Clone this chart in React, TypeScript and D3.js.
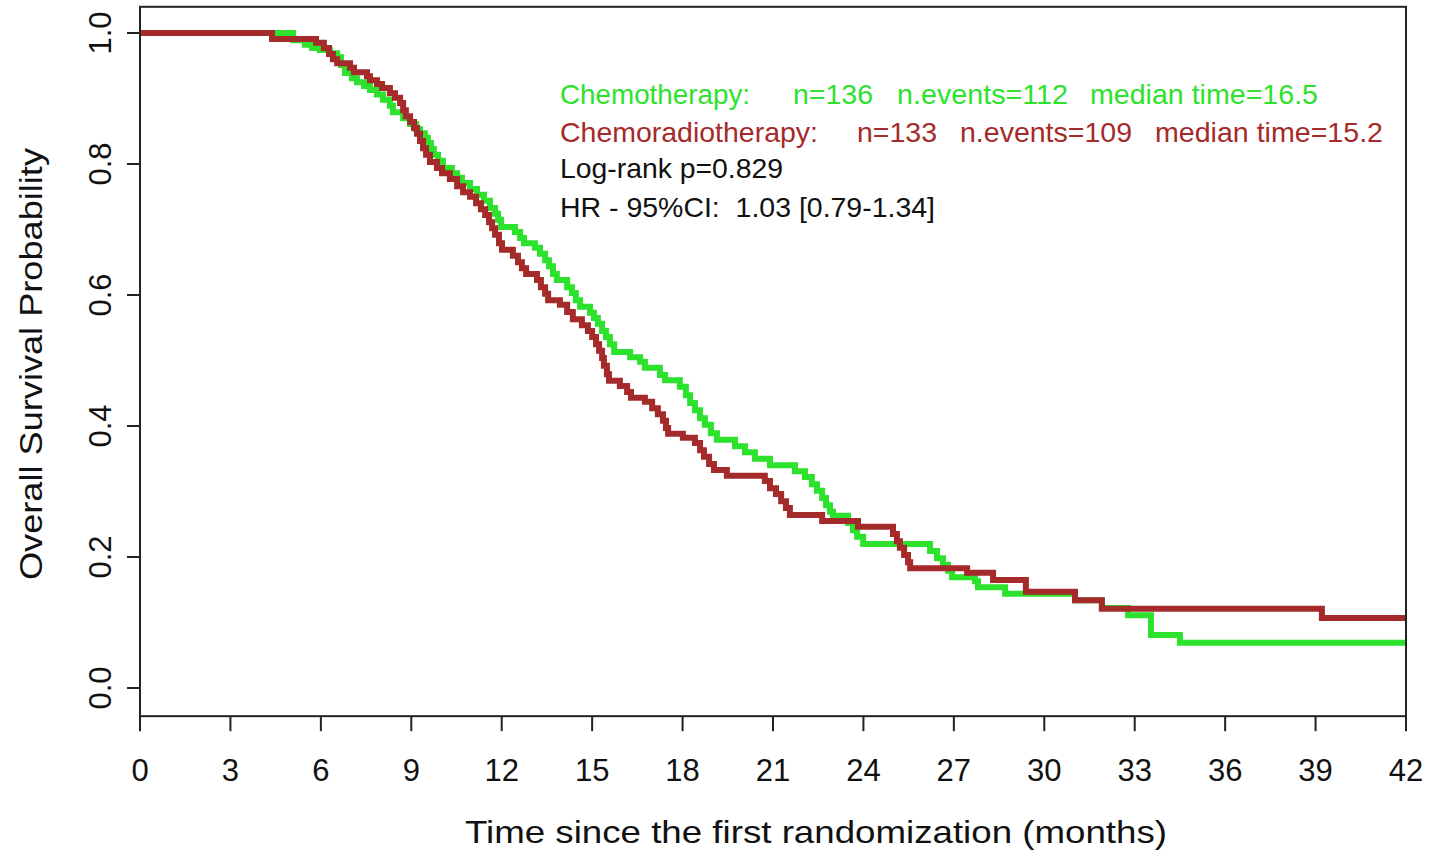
import React from "react";
import * as d3 from "d3";

// Kaplan–Meier step data: event times (months) and survival after each step
const chemoTime = [0, 5.08, 5.47, 5.71, 5.97, 6.3, 6.54, 6.67, 6.8, 7.03, 7.2, 7.43, 7.63, 7.86, 8.06, 8.29, 8.39, 8.73, 8.96, 9.16, 9.29, 9.45, 9.55, 9.65, 9.75, 9.89, 10.05, 10.35, 10.52, 10.68, 10.95, 11.18, 11.41, 11.61, 11.78, 11.88, 11.98, 12.44, 12.61, 12.74, 13.1, 13.27, 13.44, 13.57, 13.7, 13.83, 14.17, 14.33, 14.46, 14.6, 14.93, 15.06, 15.19, 15.33, 15.46, 15.59, 15.73, 16.26, 16.59, 16.75, 17.25, 17.42, 17.91, 18.11, 18.25, 18.41, 18.58, 18.74, 18.94, 19.14, 19.74, 20.07, 20.4, 20.9, 21.73, 22.06, 22.29, 22.46, 22.63, 22.76, 22.89, 22.99, 23.49, 23.65, 23.79, 23.99, 26.21, 26.44, 26.64, 26.81, 26.94, 27.7, 27.8, 28.7, 31.02, 31.91, 32.78, 33.54, 34.5, 42];
const chemoSurv = [1, 0.989, 0.982, 0.977, 0.974, 0.969, 0.963, 0.951, 0.939, 0.931, 0.925, 0.919, 0.913, 0.906, 0.898, 0.889, 0.879, 0.87, 0.861, 0.853, 0.847, 0.84, 0.832, 0.823, 0.814, 0.805, 0.794, 0.786, 0.779, 0.771, 0.762, 0.753, 0.744, 0.733, 0.724, 0.715, 0.704, 0.696, 0.687, 0.679, 0.672, 0.663, 0.653, 0.644, 0.632, 0.623, 0.612, 0.603, 0.592, 0.582, 0.573, 0.565, 0.556, 0.545, 0.536, 0.525, 0.513, 0.505, 0.498, 0.489, 0.478, 0.47, 0.46, 0.447, 0.435, 0.424, 0.412, 0.402, 0.389, 0.379, 0.369, 0.36, 0.35, 0.34, 0.331, 0.322, 0.311, 0.301, 0.29, 0.279, 0.269, 0.263, 0.252, 0.241, 0.231, 0.22, 0.209, 0.198, 0.188, 0.179, 0.169, 0.163, 0.154, 0.144, 0.134, 0.122, 0.111, 0.081, 0.069, 0.069];

const crtTime = [0, 4.38, 5.84, 6.1, 6.27, 6.4, 6.54, 6.97, 7.1, 7.53, 7.63, 7.86, 8.03, 8.29, 8.46, 8.63, 8.73, 8.82, 8.96, 9.09, 9.19, 9.29, 9.39, 9.49, 9.62, 9.85, 10.02, 10.28, 10.52, 10.72, 10.95, 11.15, 11.31, 11.45, 11.58, 11.68, 11.78, 11.91, 12.01, 12.37, 12.54, 12.67, 12.81, 13.17, 13.3, 13.44, 13.54, 13.93, 14.17, 14.36, 14.66, 14.86, 15.0, 15.13, 15.23, 15.33, 15.39, 15.49, 15.56, 15.92, 16.16, 16.29, 16.75, 16.99, 17.18, 17.35, 17.45, 17.52, 18.01, 18.41, 18.58, 18.71, 18.88, 19.04, 19.47, 20.73, 20.9, 21.1, 21.27, 21.43, 21.56, 22.63, 23.82, 24.98, 25.11, 25.21, 25.35, 25.48, 25.55, 27.44, 28.3, 29.39, 31.02, 31.91, 39.21, 42];
const crtSurv = [1, 0.991, 0.985, 0.977, 0.968, 0.96, 0.954, 0.947, 0.94, 0.934, 0.928, 0.922, 0.916, 0.908, 0.901, 0.893, 0.882, 0.873, 0.864, 0.855, 0.846, 0.835, 0.824, 0.814, 0.803, 0.794, 0.786, 0.777, 0.766, 0.757, 0.75, 0.74, 0.731, 0.722, 0.711, 0.702, 0.692, 0.679, 0.669, 0.66, 0.65, 0.641, 0.632, 0.623, 0.612, 0.602, 0.592, 0.585, 0.574, 0.563, 0.554, 0.545, 0.536, 0.525, 0.515, 0.504, 0.492, 0.479, 0.469, 0.461, 0.452, 0.443, 0.437, 0.427, 0.418, 0.408, 0.397, 0.388, 0.382, 0.374, 0.363, 0.353, 0.342, 0.333, 0.324, 0.316, 0.305, 0.296, 0.285, 0.275, 0.264, 0.255, 0.246, 0.235, 0.224, 0.214, 0.203, 0.192, 0.183, 0.176, 0.165, 0.147, 0.134, 0.121, 0.107, 0.107];

// Axis ticks
const monthTicks = [0, 3, 6, 9, 12, 15, 18, 21, 24, 27, 30, 33, 36, 39, 42];
const survTicks = [0, 0.2, 0.4, 0.6, 0.8, 1.0];

// Group summaries
const groupNames = ["Chemotherapy:", "Chemoradiotherapy:"];
const groupN = [136, 133];
const groupEvents = [112, 109];
const groupMedian = [16.5, 15.2];
const groupColors = ["#2de22d", "#a52a2a"];
const statLines = ["Log-rank p=0.829", "HR - 95%CI:  1.03 [0.79-1.34]"];

const FONT = "'Liberation Sans', Arial, Helvetica, sans-serif";

export default function App() {
  const W = 1439;
  const H = 853;
  const x = d3.scaleLinear().domain([0, 42]).range([140, 1406]);
  const y = d3.scaleLinear().domain([0, 1]).range([688, 33]);
  const boxTop = y(1.04);
  const boxBottom = y(-0.043);

  const line = d3
    .line<[number, number]>()
    .x((d) => x(d[0]))
    .y((d) => y(d[1]))
    .curve(d3.curveStepAfter);

  const chemo: [number, number][] = chemoTime.map((t, i) => [t, chemoSurv[i]]);
  const crt: [number, number][] = crtTime.map((t, i) => [t, crtSurv[i]]);

  // Legend segment layout (x start, width) per column
  const colX = [
    [560, 793, 897, 1090],
    [560, 857, 960, 1155],
  ];
  const colW = [
    [190, 80, 171, 228],
    [258, 80, 172, 228],
  ];
  const legendY = [94, 132];

  return (
    <svg
      width={W}
      height={H}
      style={{ position: "absolute", left: 0, top: 0, background: "#fff" }}
      fontFamily={FONT}
    >
      <rect x={0} y={0} width={W} height={H} fill="#fff" />

      {/* curves */}
      <path d={line(chemo) || ""} fill="none" stroke={groupColors[0]} strokeWidth={6} />
      <path d={line(crt) || ""} fill="none" stroke={groupColors[1]} strokeWidth={6} />

      {/* plot box */}
      <rect
        x={x(0)}
        y={boxTop}
        width={x(42) - x(0)}
        height={boxBottom - boxTop}
        fill="none"
        stroke="#222"
        strokeWidth={2}
      />

      {/* x axis */}
      {monthTicks.map((m) => (
        <g key={"xt" + m}>
          <line x1={x(m)} x2={x(m)} y1={boxBottom} y2={boxBottom + 15} stroke="#222" strokeWidth={2} />
          <text
            x={x(m)}
            y={781}
            textAnchor="middle"
            fontSize={31}
            fill="#111"
          >
            {m}
          </text>
        </g>
      ))}
      <text
        x={816}
        y={843}
        textAnchor="middle"
        fontSize={32}
        fill="#111"
        textLength={702}
        lengthAdjust="spacingAndGlyphs"
      >
        Time since the first randomization (months)
      </text>

      {/* y axis */}
      {survTicks.map((s) => (
        <g key={"yt" + s}>
          <line x1={x(0)} x2={x(0) - 13} y1={y(s)} y2={y(s)} stroke="#222" strokeWidth={2} />
          <text
            transform={`translate(111,${y(s)}) rotate(-90)`}
            textAnchor="middle"
            fontSize={31}
            fill="#111"
          >
            {s.toFixed(1)}
          </text>
        </g>
      ))}
      <text
        transform={`translate(42,${364}) rotate(-90)`}
        textAnchor="middle"
        fontSize={31}
        fill="#111"
        textLength={432}
        lengthAdjust="spacingAndGlyphs"
      >
        Overall Survival Probability
      </text>

      {/* group summaries */}
      {groupNames.map((g, i) => {
        const parts = [
          g,
          `n=${groupN[i]}`,
          `n.events=${groupEvents[i]}`,
          `median time=${groupMedian[i].toFixed(1)}`,
        ];
        return (
          <g key={g} fill={groupColors[i]} fontSize={28}>
            {parts.map((p, j) => (
              <text
                key={j}
                x={colX[i][j]}
                y={legendY[i] + 10}
                textLength={colW[i][j]}
                lengthAdjust="spacingAndGlyphs"
              >
                {p}
              </text>
            ))}
          </g>
        );
      })}
      <text x={560} y={178} fontSize={28} fill="#111" textLength={223} lengthAdjust="spacingAndGlyphs">
        {statLines[0]}
      </text>
      <text x={560} y={217} fontSize={28} fill="#111" textLength={375} lengthAdjust="spacingAndGlyphs" style={{ whiteSpace: "pre" }}>
        {statLines[1]}
      </text>
    </svg>
  );
}
